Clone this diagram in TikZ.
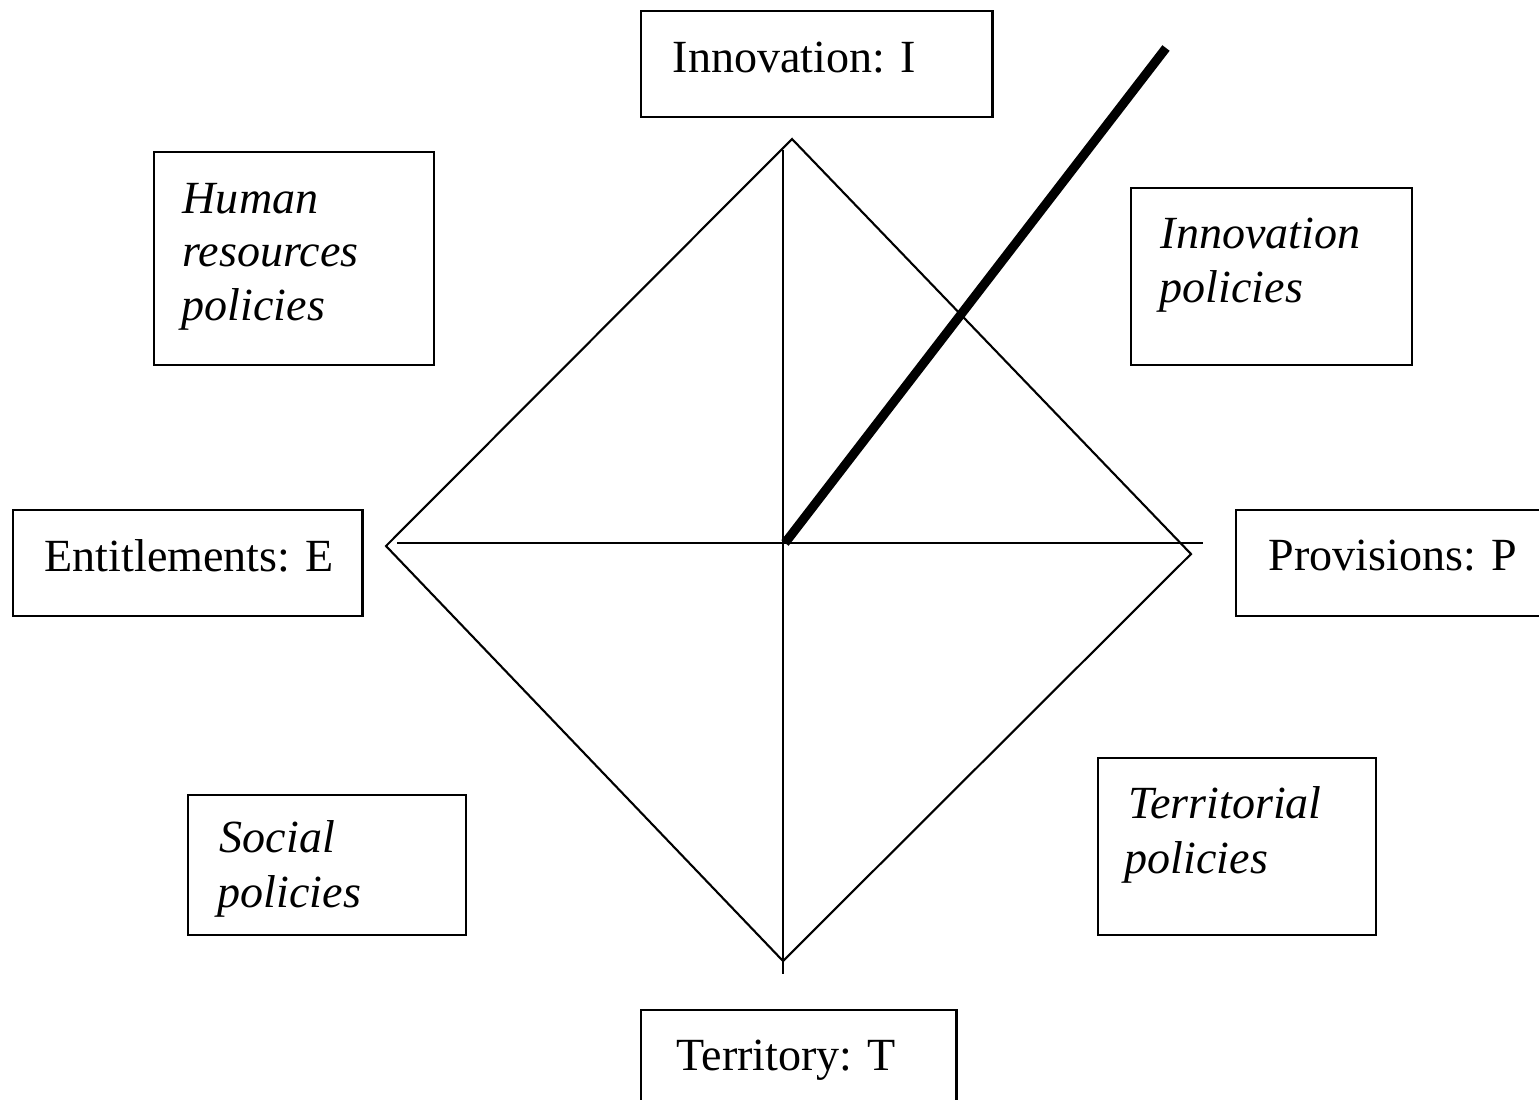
\documentclass[tikz,border=0pt]{standalone}
\usepackage{fontspec}
\setmainfont{Liberation Serif}
\begin{document}
\begin{tikzpicture}[x=0.01cm,y=-0.01cm,
  box/.style={draw, line width=0.75pt, rectangle, anchor=north west, inner sep=0pt, outer sep=0pt},
  lbl/.style={anchor=base west, inner sep=0pt, font=\fontsize{13.1}{15.4}\selectfont},
  ilbl/.style={lbl, font=\fontsize{13.1}{15.4}\selectfont\itshape},
  thin/.style={line width=0.6pt},
  thickline/.style={line width=2.6pt}]
\clip (0,0) rectangle (1539,1100);
\fill[white] (0,0) rectangle (1539,1100);
% boxes
\node[box, minimum width=3.51cm, minimum height=1.06cm] (bI) at (641,11) {};
\node[box, minimum width=2.80cm, minimum height=2.13cm] (bHR) at (154,152) {};
\node[box, minimum width=2.81cm, minimum height=1.77cm] (bIP) at (1131,188) {};
\node[box, minimum width=3.49cm, minimum height=1.06cm] (bE) at (13,510) {};
\node[box, minimum width=3.40cm, minimum height=1.06cm] (bP) at (1236,510) {};
\node[box, minimum width=2.78cm, minimum height=1.40cm] (bSP) at (188,795) {};
\node[box, minimum width=2.78cm, minimum height=1.77cm] (bTP) at (1098,758) {};
\node[box, minimum width=3.15cm, minimum height=1.30cm] (bT) at (641,1010) {};
% labels
\node[lbl] (tI) at (672,72) {Innovation: I};
\node[ilbl] (tHR1) at (182,213) {Human};
\node[ilbl] (tHR2) at (182,266) {resources};
\node[ilbl] (tHR3) at (181,320) {policies};
\node[ilbl] (tIP1) at (1160,248) {Innovation};
\node[ilbl] (tIP2) at (1159,302) {policies};
\node[lbl] (tE) at (44,571) {Entitlements: E};
\node[lbl] (tP) at (1268,570) {Provisions: P};
\node[ilbl] (tSP1) at (219,852) {Social};
\node[ilbl] (tSP2) at (217,907) {policies};
\node[ilbl] (tTP1) at (1128,818) {Territorial};
\node[ilbl] (tTP2) at (1124,873) {policies};
\node[lbl] (tT) at (676,1070) {Territory: T};
% diamond
\coordinate (top) at (792,139);
\coordinate (right) at (1191,554);
\coordinate (bottom) at (783,961);
\coordinate (left) at (386,546);
\coordinate (hL) at (397,543);
\coordinate (hR) at (1203,543);
\coordinate (vT) at (783,150);
\coordinate (vB) at (783,974);
\coordinate (c) at (785,543);
\coordinate (tip) at (1166,48);
\draw[thin, line join=miter] (top) -- (right) -- (bottom) -- (left) -- cycle;
\draw[thin] (hL) -- (hR);
\draw[thin] (vT) -- (vB);
\draw[thickline] (c) -- (tip);
\end{tikzpicture}
\end{document}
